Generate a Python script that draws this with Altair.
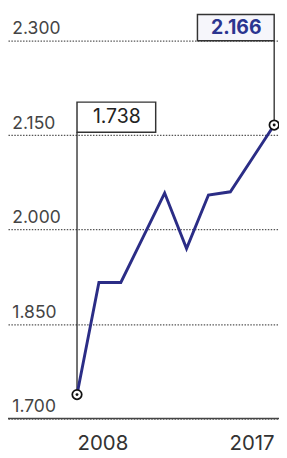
import altair as alt
import pandas as pd

# ---- data ----
years = [2008, 2009, 2010, 2011, 2012, 2013, 2014, 2015, 2016, 2017]
values = [1.738, 1.916, 1.916, 1.987, 2.058, 1.970, 2.055, 2.060, 2.113, 2.166]
y_ticks = [1.7, 1.85, 2.0, 2.15, 2.3]
x_ticks = [2008, 2017]
ann_years = [2008, 2017]
ann_values = [1.738, 2.166]
ann_labels = ["1.738", "2.166"]

df = pd.DataFrame({"year": years, "value": values})

NAVY = "#2b2d86"
FONT = "Inter"

# the plot area spans the whole width; the years occupy its right part
x_scale = alt.Scale(domain=[2004.85, 2017.22], nice=False, zero=False)
y_scale = alt.Scale(domain=[1.7, 2.3], zero=False, nice=False)

x_axis = alt.Axis(values=x_ticks, format="d", title=None, grid=False, domain=False,
                  ticks=False, labelFlush=75, labelFontSize=21, labelColor="#333",
                  labelPadding=15, labelFont=FONT)
y_axis = alt.Axis(values=y_ticks, format=".3f", title=None, domain=False, ticks=False,
                  tickSize=0, labelAlign="left", labelPadding=-4,
                  labelBaseline="alphabetic", labelOffset=-7, labelFontSize=18,
                  labelColor="#444", labelFont=FONT, gridColor="#555",
                  gridDash=[1.5, 1.5], gridWidth=1.3, gridOpacity=1)

X = alt.X("year:Q", scale=x_scale, axis=x_axis)
Y = alt.Y("value:Q", scale=y_scale, axis=y_axis)

base = alt.Chart(df)

baseline = alt.Chart(pd.DataFrame({"value": [y_ticks[0]]})).mark_rule(
    color="#444", strokeWidth=1.5).encode(y=Y)

line = base.mark_line(color=NAVY, strokeWidth=3).encode(x=X, y=Y)

# annotation 2008 (box above the 2.150 gridline, to the right of the point)
a1 = pd.DataFrame({"year": [ann_years[0]], "value": [ann_values[0]],
                   "level": [y_ticks[3]], "label": [ann_labels[0]]})
# annotation 2017 (box above the 2.300 gridline, to the left of the point)
a2 = pd.DataFrame({"year": [ann_years[1]], "value": [ann_values[1]],
                   "level": [y_ticks[4]], "label": [ann_labels[1]]})

L = alt.Y("level:Q", scale=y_scale, axis=y_axis)
L2 = alt.Y2("level:Q")

rule1 = alt.Chart(a1).mark_rule(color="#222", strokeWidth=1.3, y2Offset=-3).encode(
    x=X, y=Y, y2=L2)
rule2 = alt.Chart(a2).mark_rule(color="#222", strokeWidth=1.3).encode(
    x=X, y=Y, y2=L2)

box1 = alt.Chart(a1).mark_rect(fill="white", stroke="#333", strokeWidth=1.5,
                               x2Offset=81, yOffset=-34, y2Offset=-3).encode(
    x=X, x2=alt.X2("year:Q"), y=L, y2=L2)
box2 = alt.Chart(a2).mark_rect(fill="#f6f6fb", stroke="#333", strokeWidth=1.5,
                               xOffset=-79, yOffset=-27, y2Offset=0).encode(
    x=X, x2=alt.X2("year:Q"), y=L, y2=L2)

txt1 = alt.Chart(a1).mark_text(dx=41, dy=-18, align="center", baseline="middle",
                               fontSize=20, font=FONT, color="#222").encode(
    x=X, y=L, text="label:N")
txt2 = alt.Chart(a2).mark_text(dx=-39, dy=-13, align="center", baseline="middle",
                               fontSize=20, font=FONT, fontWeight="bold",
                               color="#2b3590").encode(
    x=X, y=L, text="label:N")

pts_df = pd.DataFrame({"year": ann_years, "value": ann_values})
ring = alt.Chart(pts_df).mark_point(shape="circle", size=95, filled=True,
                                    fill="white", stroke="#111", strokeWidth=1.8,
                                    opacity=1).encode(x=X, y=Y)
dot = alt.Chart(pts_df).mark_point(shape="circle", size=9, filled=True,
                                   color="#111", opacity=1).encode(x=X, y=Y)

chart = alt.layer(baseline, rule1, rule2, line, ring, dot, box1, box2, txt1, txt2).properties(
    width=279, height=389,
    padding={"left": 0, "top": 27, "right": 0, "bottom": 34},
    autosize="none",
    background="white",
).configure_view(stroke=None)

chart.save("out.html", embed_options={"renderer": "svg", "actions": False})
